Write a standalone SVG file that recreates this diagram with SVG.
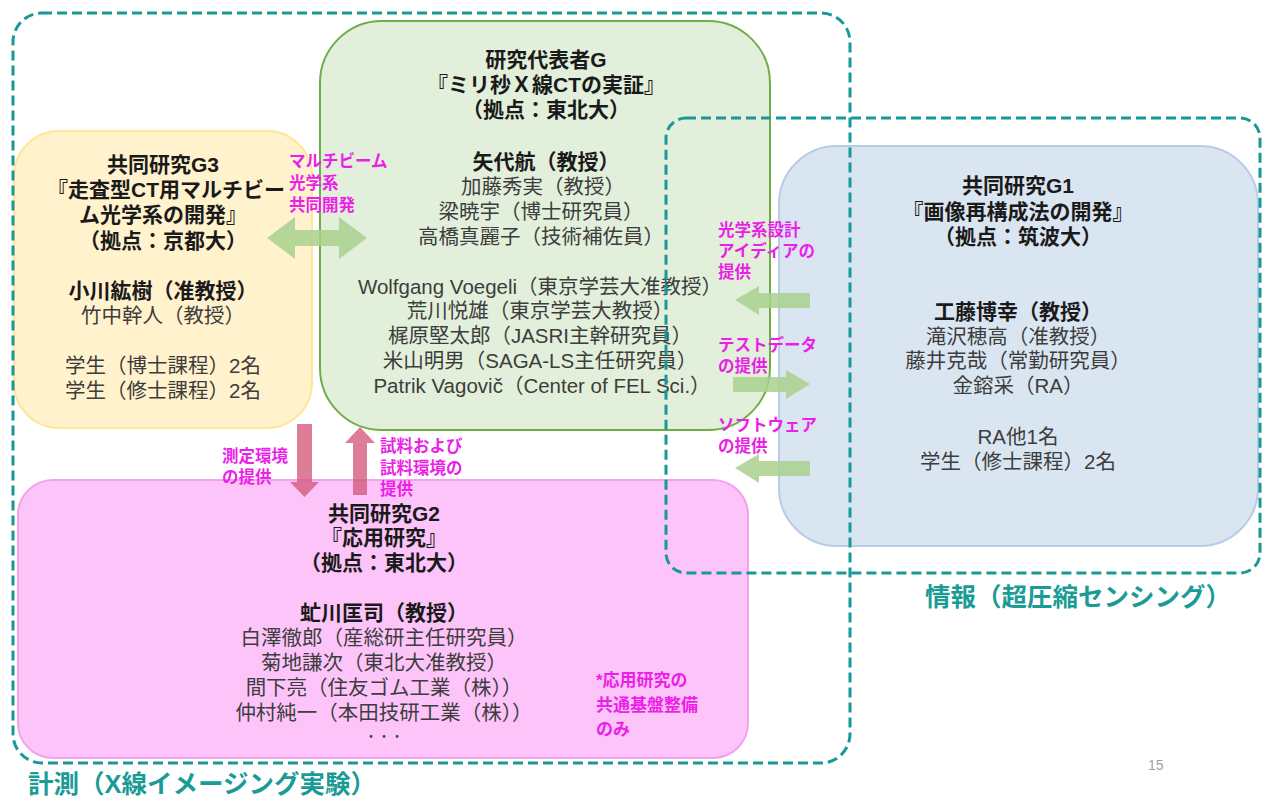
<svg xmlns="http://www.w3.org/2000/svg" width="1270" height="801" viewBox="0 0 1270 801">
<style>
text{font-family:"Liberation Sans","Noto Sans CJK JP","Noto Sans CJK SC",sans-serif;}
.t{font-size:20.5px;fill:#3d3d3d;text-anchor:middle;}
.b{font-size:21px;fill:#1a1a1a;font-weight:bold;text-anchor:middle;}
.m{font-size:16.5px;fill:#ec1fe8;font-weight:bold;}
.n{font-size:17px;fill:#ec1fe8;font-weight:bold;}
.region{fill:none;stroke:#179a97;stroke-width:3;stroke-dasharray:10 5;}
.rl{font-size:25.5px;fill:#1a9b96;font-weight:bold;}
.ga{fill:#a9d18e;opacity:0.85;}
.pa{fill:#d4587a;opacity:0.78;}
</style>
<rect width="1270" height="801" fill="#ffffff"/>

<g id="node-g3">
<rect x="14" y="131" width="298" height="297" rx="45" fill="#fff2cc" stroke="#ffe699" stroke-width="2"/>
<text class="b" x="163" y="172">共同研究G3</text>
<text class="b" x="166" y="197">『走査型CT用マルチビー</text>
<text class="b" x="163" y="222">ム光学系の開発』</text>
<text class="b" x="163" y="248">（拠点：京都大）</text>
<text class="b" x="163" y="298">小川紘樹（准教授）</text>
<text class="t" x="163" y="323">竹中幹人（教授）</text>
<text class="t" x="163" y="373">学生（博士課程）2名</text>
<text class="t" x="163" y="398">学生（修士課程）2名</text>
</g>

<g id="node-main">
<rect x="320" y="21" width="450" height="409" rx="62" fill="#e2efda" stroke="#70ad47" stroke-width="2"/>
<text class="b" x="546" y="67">研究代表者G</text>
<text class="b" x="546" y="92">『ミリ秒Ｘ線CTの実証』</text>
<text class="b" x="546" y="117">（拠点：東北大）</text>
<text class="b" x="546" y="169">矢代航（教授）</text>
<text class="t" x="543" y="194">加藤秀実（教授）</text>
<text class="t" x="541" y="219">梁暁宇（博士研究員）</text>
<text class="t" x="541" y="244">高橋真麗子（技術補佐員）</text>
<text class="t" x="540" y="294">Wolfgang Voegeli（東京学芸大准教授）</text>
<text class="t" x="540" y="318">荒川悦雄（東京学芸大教授）</text>
<text class="t" x="540" y="343">梶原堅太郎（JASRI主幹研究員）</text>
<text class="t" x="540" y="368">米山明男（SAGA-LS主任研究員）</text>
<text class="t" x="542" y="393">Patrik Vagovič（Center of FEL Sci.）</text>
</g>

<g id="node-g1">
<rect x="779" y="146" width="479" height="400" rx="58" fill="#dae5f2" stroke="#b8cce6" stroke-width="2"/>
<text class="b" x="1018" y="193">共同研究G1</text>
<text class="b" x="1018" y="219">『画像再構成法の開発』</text>
<text class="b" x="1018" y="244">（拠点：筑波大）</text>
<text class="b" x="1018" y="319">工藤博幸（教授）</text>
<text class="t" x="1018" y="344">滝沢穂高（准教授）</text>
<text class="t" x="1018" y="368">藤井克哉（常勤研究員）</text>
<text class="t" x="1018" y="393">金鎔采（RA）</text>
<text class="t" x="1018" y="444">RA他1名</text>
<text class="t" x="1018" y="469">学生（修士課程）2名</text>
</g>

<g id="node-g2">
<rect x="18" y="480" width="730" height="278" rx="35" fill="#fdc4f9" stroke="#f2a2ee" stroke-width="2"/>
<text class="b" x="384" y="521">共同研究G2</text>
<text class="b" x="384" y="545">『応用研究』</text>
<text class="b" x="384" y="570">（拠点：東北大）</text>
<text class="b" x="384" y="620">虻川匡司（教授）</text>
<text class="t" x="384" y="645">白澤徹郎（産総研主任研究員）</text>
<text class="t" x="384" y="670">菊地謙次（東北大准教授）</text>
<text class="t" x="384" y="695">間下亮（住友ゴム工業（株））</text>
<text class="t" x="384" y="720">仲村純一（本田技研工業（株））</text>
<text class="t" x="384" y="741" style="font-size:13px">・・・</text>
<text class="n" x="596" y="686">*応用研究の</text>
<text class="n" x="596" y="711">共通基盤整備</text>
<text class="n" x="596" y="735">のみ</text>
</g>

<g id="region-measure">
<rect class="region" x="13" y="13" width="837" height="750" rx="29"/>
<text class="rl" x="28" y="793">計測（X線イメージング実験）</text>
</g>

<g id="region-info">
<rect class="region" x="666" y="118" width="594" height="455" rx="20"/>
<text class="rl" x="925" y="606">情報（超圧縮センシング）</text>
</g>

<g id="connectors">
<path class="ga" d="M267,238 L295,217 L295,230 L339,230 L339,217 L367,238 L339,259 L339,246 L295,246 L295,259 Z"/>
<path class="ga" d="M735,300 L759,286 L759,293 L810,293 L810,308 L759,308 L759,315 Z"/>
<path class="ga" d="M810,384 L786,370 L786,377 L733,377 L733,392 L786,392 L786,399 Z"/>
<path class="ga" d="M735,468 L759,454 L759,461 L810,461 L810,476 L759,476 L759,483 Z"/>
<path class="pa" d="M297,424 L312,424 L312,482 L319,482 L304.5,497 L290,482 L297,482 Z"/>
<path class="pa" d="M353,495 L367,495 L367,443 L375,443 L360,427 L345,443 L353,443 Z"/>
<text class="m" x="289" y="167">マルチビーム</text>
<text class="m" x="289" y="189">光学系</text>
<text class="m" x="289" y="211">共同開発</text>
<text class="m" x="718" y="236">光学系設計</text>
<text class="m" x="718" y="257">アイディアの</text>
<text class="m" x="718" y="278">提供</text>
<text class="m" x="718" y="351">テストデータ</text>
<text class="m" x="718" y="372">の提供</text>
<text class="m" x="718" y="431">ソフトウェア</text>
<text class="m" x="718" y="452">の提供</text>
<text class="m" x="222" y="462">測定環境</text>
<text class="m" x="222" y="483">の提供</text>
<text class="m" x="380" y="452">試料および</text>
<text class="m" x="380" y="474">試料環境の</text>
<text class="m" x="380" y="495">提供</text>
</g>

<text x="1148" y="770" style="font-family:'Liberation Sans',sans-serif;font-size:14px;fill:#a0a0a0">15</text>
</svg>
